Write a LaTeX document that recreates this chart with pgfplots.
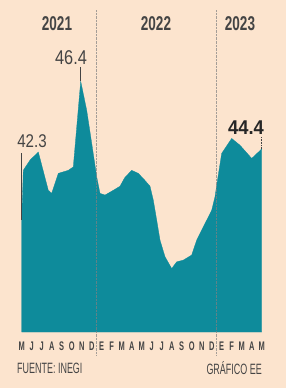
\documentclass[border=0pt]{standalone}
\usepackage{pgfplots}
\pgfplotsset{compat=1.18}
\usepackage{fontspec}
\setmainfont{Liberation Sans}
\newfontfamily\condA[FakeStretch=0.6]{Liberation Sans}
\newfontfamily\condY[FakeStretch=0.68]{Liberation Sans}
\newfontfamily\condN[FakeStretch=0.82]{Liberation Sans}
\newfontfamily\condB[FakeStretch=0.92]{Liberation Sans}
\newfontfamily\condF[FakeStretch=0.6]{Liberation Sans}
\definecolor{bg}{HTML}{FCE4CE}
\definecolor{teal1}{HTML}{0E8B9B}
\definecolor{txt}{HTML}{444444}
\begin{document}
\begin{tikzpicture}
\fill[bg] (0,0) rectangle (286bp,388bp);
\begin{axis}[
  at={(21.7bp,56bp)}, anchor=south west,
  scale only axis, width=240bp, height=322bp,
  xmin=0, xmax=24, ymin=39.0, ymax=48.5,
  axis line style={draw=none}, tick style={draw=none},
  ytick=\empty,
  xtick={0,...,24},
  xticklabels={M,J,J,A,S,O,N,D,E,F,M,A,M,J,J,A,S,O,N,D,E,F,M,A,M},
  xticklabel style={font=\condA\bfseries\fontsize{12.5}{13}\selectfont, text=txt, anchor=north, inner sep=0pt, yshift=-9.5bp},
  clip=false,
]
\addplot[fill=teal1, draw=teal1, line width=0.3pt] coordinates {
(0,42.3) (0.16,43.77) (0.83,44.07) (1.66,44.31) (2.66,43.18) (3.0,43.09)
(3.66,43.68) (4.66,43.77) (5.16,43.87) (5.9,46.4) (6.5,45.54) (7.0,44.57)
(7.5,43.58) (7.83,43.09) (8.33,43.04) (9.16,43.18) (9.83,43.3) (10.3,43.55)
(11.0,43.77) (11.66,43.68) (12.3,43.48) (12.83,43.3) (13.16,42.89) (13.5,42.3)
(13.83,41.71) (14.33,41.22) (15.0,40.87) (15.5,41.07) (16.16,41.12) (17.0,41.27)
(17.5,41.71) (18.33,42.2) (19.0,42.59) (19.33,42.99) (19.58,43.48) (20.0,44.27)
(21.0,44.71) (21.83,44.51) (23.0,44.12) (24.0,44.4)
} \closedcycle;
\draw[gray, densely dotted, opacity=0.7] (axis cs:7.45,48.5) -- (axis cs:7.45,38.32);
\draw[gray, densely dotted, opacity=0.7] (axis cs:19.4,48.5) -- (axis cs:19.4,38.32);
\node[font=\condY\bfseries\fontsize{20}{20}\selectfont, text=txt] at (axis cs:3.53,48.11) {2021};
\node[font=\condY\bfseries\fontsize{20}{20}\selectfont, text=txt] at (axis cs:13.43,48.11) {2022};
\node[font=\condY\bfseries\fontsize{20}{20}\selectfont, text=txt] at (axis cs:21.83,48.11) {2023};
\node[font=\condN\fontsize{20}{20}\selectfont, text=txt] at (axis cs:4.93,47.08) {46.4};
\draw[txt, line width=0.6pt] (axis cs:5.9,46.82) -- (axis cs:5.9,46.4);
\node[font=\condN\fontsize{18.5}{19}\selectfont, text=txt] at (axis cs:1.03,44.63) {42.3};
\draw[txt, line width=0.8pt] (axis cs:0,44.28) -- (axis cs:0,42.3);
\node[font=\condB\bfseries\fontsize{20}{20}\selectfont, text=black!85] at (axis cs:22.43,45.04) {44.4};
\draw[txt, densely dotted, line width=0.6pt] (axis cs:24,44.75) -- (axis cs:24,44.4);
\node[font=\condF\fontsize{15}{15}\selectfont, text=txt, anchor=west, inner sep=0pt] at (axis cs:-0.47,37.93) {FUENTE: INEGI};
\node[font=\condF\fontsize{15}{15}\selectfont, text=txt, anchor=east, inner sep=0pt] at (axis cs:24.03,37.93) {GRÁFICO EE};
\end{axis}
\end{tikzpicture}
\end{document}
